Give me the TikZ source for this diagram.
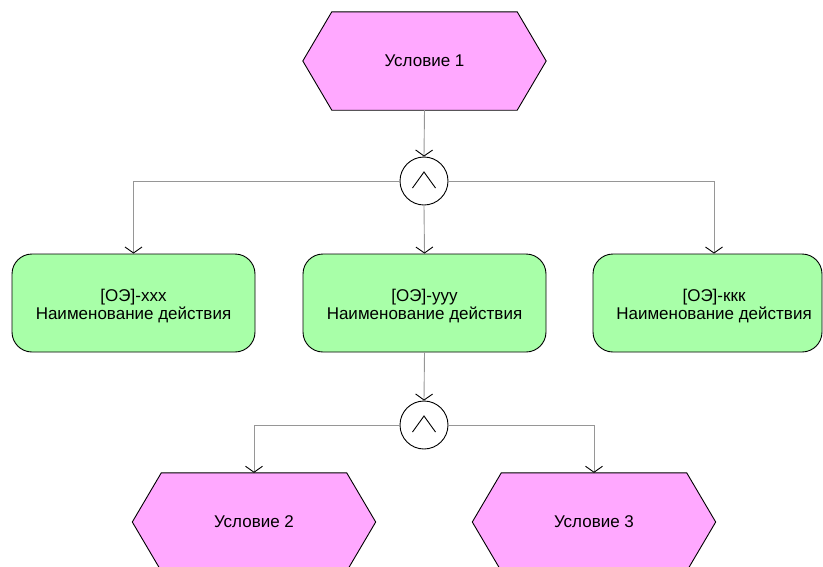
\documentclass[tikz,border=0pt]{standalone}
\usepackage{fontspec}
\setmainfont{Liberation Sans}
\usetikzlibrary{arrows.meta,backgrounds,calc}
\definecolor{evpink}{RGB}{255,168,255}
\definecolor{fngreen}{RGB}{168,255,168}
\definecolor{conngray}{RGB}{150,150,150}
\newcommand{\evhexagon}[1]{%
  \path[hexshape] (#1.west) -- ([xshift=29pt]#1.north west) -- ([xshift=-29pt]#1.north east)
    -- (#1.east) -- ([xshift=-29pt]#1.south east) -- ([xshift=29pt]#1.south west) -- cycle;}
\begin{document}
\begin{tikzpicture}[x=1pt,y=-1pt,
  txt/.style={font=\fontsize{17}{18.5}\selectfont,align=center},
  evt/.style={txt,minimum width=243pt,minimum height=98pt,inner sep=0pt},
  hexshape/.style={fill=evpink,draw=black,line width=0.9pt},
  fn/.style={draw=black,fill=fngreen,rounded corners=20pt,minimum width=243pt,minimum height=98pt,inner sep=0pt,line width=0.9pt},
  fntext/.style={txt},
  op/.style={circle,draw=black,fill=white,minimum size=48pt,inner sep=0pt,line width=0.9pt},
  conn/.style={draw=conngray,line width=0.9pt,-{Straight Barb[length=6pt,width=17pt,color=black,line width=0.9pt]}},
  andsym/.style={draw=black,line width=0.9pt}]
\useasboundingbox (0,0) rectangle (823,566);
% events
\node[evt] (u1) at (424.5,61) {Условие 1};
\node[evt] (u2) at (254,522) {Условие 2};
\node[evt] (u3) at (594,522) {Условие 3};
% operators
\node[op] (o1) at (424,181) {};
\node[op] (o2) at (424,425) {};
% functions
\node[fn] (f1) at (133.5,303) {};
\node[fn] (f2) at (424.5,303) {};
\node[fn,minimum width=229pt] (f3) at (707.5,303) {};
\node[fntext] (f1t) at (133.5,306) {[ОЭ]-xxx\\Наименование действия};
\node[fntext] (f2t) at (424.5,306) {[ОЭ]-yyy\\Наименование действия};
\node[fntext] (f3t) at (714,306) {[ОЭ]-ккк\\Наименование действия};
\begin{scope}[on background layer]
  \evhexagon{u1}
  \evhexagon{u2}
  \evhexagon{u3}
\end{scope}
% AND symbols
\draw[andsym] ([shift={(-11.5,7)}]o1.center) -- ([shift={(0,-9)}]o1.center) -- ([shift={(11.5,7)}]o1.center);
\draw[andsym] ([shift={(-11.5,7)}]o2.center) -- ([shift={(0,-9)}]o2.center) -- ([shift={(11.5,7)}]o2.center);
% connectors
\draw[conn] (u1.south) -- (o1.north);
\draw[conn] (o1.west) -| (f1.north);
\draw[conn] (o1.south) -- (f2.north);
\draw[conn] (o1.east) -| (f3t.center |- f3.north);
\draw[conn] (f2.south) -- (o2.north);
\draw[conn] (o2.west) -| (u2.north);
\draw[conn] (o2.east) -| (u3.north);
\end{tikzpicture}
\end{document}
